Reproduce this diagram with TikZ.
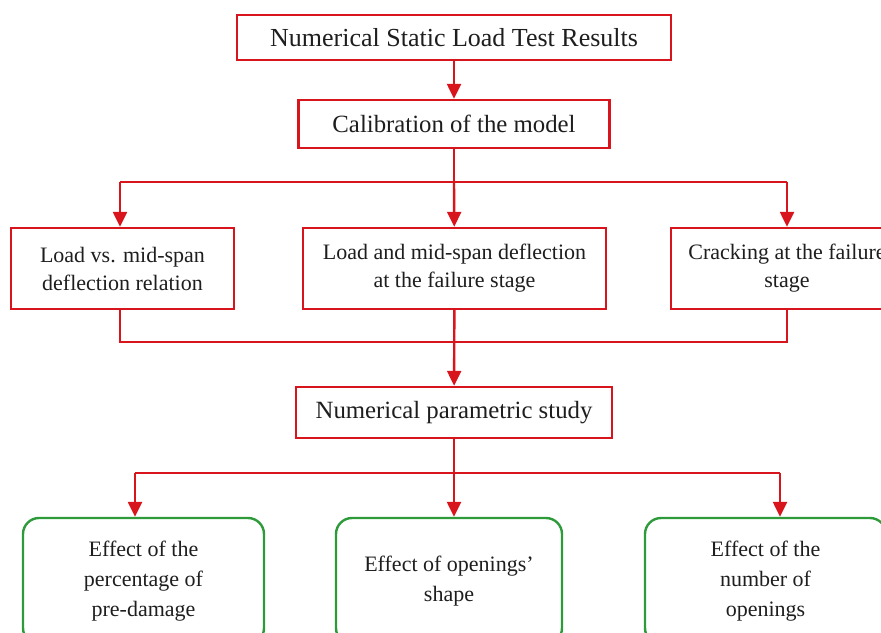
\documentclass[tikz,border=0pt]{standalone}
\usepackage{fontspec}
\setmainfont{Liberation Serif}
\usepackage{tikz}
\usetikzlibrary{positioning,arrows.meta}
\definecolor{linkred}{HTML}{D8141C}
\definecolor{effgreen}{HTML}{2E9B3A}
\definecolor{txtgray}{HTML}{1E1E1E}
\tikzset{
  resbox/.style={draw=linkred, line width=1.2pt, align=center, text=txtgray, fill=white},
  calbox/.style={resbox, font=\fontsize{12.4}{15}\selectfont},
  rowbox/.style={resbox, font=\fontsize{11}{14}\selectfont, minimum height=40.5pt},
  effbox/.style={draw=effgreen, line width=1.2pt, rounded corners=8pt, align=center, text=txtgray,
                 font=\fontsize{11}{15}\selectfont, minimum height=63pt},
  link/.style={draw=linkred, line width=1.2pt},
  arrow/.style={link, -{Triangle[length=7.5pt,width=7pt]}}
}
\begin{document}
\begin{tikzpicture}[x=0.5pt, y=-0.5pt]
  \useasboundingbox (0,0) rectangle (881,632);
  \clip (0,0) rectangle (881,632);

  % top part
  \node[resbox, font=\fontsize{13}{15}\selectfont, minimum width=217pt, minimum height=22.5pt] (res) at (454,37.5) {Numerical Static Load Test Results};
  \node[calbox, minimum width=155.5pt, minimum height=24pt] (cal) at (454,124) {Calibration of the model};
  \draw[arrow] (res) -- (cal);

  % calibration outputs
  \node[rowbox, minimum width=111.5pt] (ldef) at (122.5,268.5) {Load vs. mid-span\\deflection relation};
  \node[rowbox, minimum width=151.5pt] (lfail) at (454.5,268.5) {Load and mid-span deflection\\at the failure stage};
  \node[rowbox, minimum width=116pt] (crack) at (787,268.5) {Cracking at the failure\\stage};
  \coordinate (c1) at (454,182);
  \coordinate (c1l) at (120,182);
  \coordinate (c1r) at (787,182);
  \draw[link] (cal) -- (c1);
  \draw[link] (c1l) -- (c1r);
  \draw[arrow] (c1l) -- (c1l |- ldef.north);
  \draw[arrow] (c1) -- (lfail);
  \draw[arrow] (c1r) -- (c1r |- crack.north);

  % parametric study
  \node[calbox, minimum width=158pt, minimum height=25.5pt] (par) at (454,412.5) {Numerical parametric study};
  \coordinate (c2l) at (120,342);
  \coordinate (c2r) at (787,342);
  \draw[link] (c2l |- ldef.south) -- (c2l) -- (c2r) -- (c2r |- crack.south);
  \draw[arrow] (lfail) -- (par);

  % effects
  \node[effbox, minimum width=120.5pt] (epre) at (143.5,581) {Effect of the\\percentage of\\pre-damage};
  \node[effbox, minimum width=113pt] (eshp) at (449,581) {Effect of openings'\\shape};
  \node[effbox, minimum width=120.5pt] (enum) at (765.5,581) {Effect of the\\number of\\openings};
  \coordinate (c3) at (454,473);
  \coordinate (c3l) at (135,473);
  \coordinate (c3r) at (780,473);
  \draw[link] (par) -- (c3);
  \draw[link] (c3l) -- (c3r);
  \draw[arrow] (c3l) -- (c3l |- epre.north);
  \draw[arrow] (c3) -- (c3 |- eshp.north);
  \draw[arrow] (c3r) -- (c3r |- enum.north);
\end{tikzpicture}
\end{document}
